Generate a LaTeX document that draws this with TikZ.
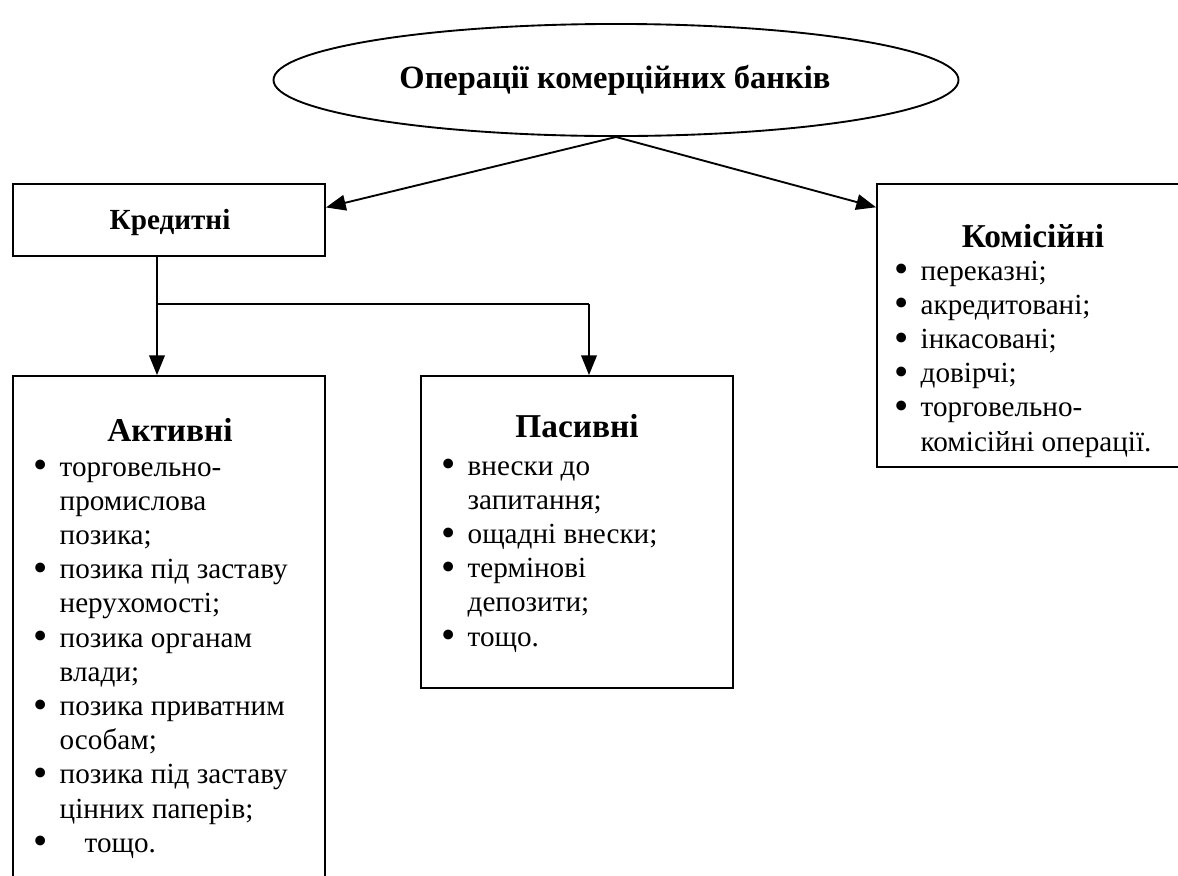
\documentclass[tikz,border=0pt]{standalone}
\usepackage{fontspec}
\setmainfont{Liberation Serif}
\usetikzlibrary{shapes.geometric,arrows.meta,fit,calc}

% bullet list as a two-column table: mark and item text, fixed row pitch
\newcommand{\bul}{\raisebox{-0.2ex}{\scalebox{1.4}{\textbullet}}}
\newcommand{\rowstrut}{\rule[-4.9pt]{0pt}{16.4pt}}
\newenvironment{blist}{\begin{tabular}[t]{@{\rowstrut}l@{\hspace{5.5pt}}l@{}}}{\end{tabular}}

\begin{document}
\begin{tikzpicture}[x=0.48pt,y=-0.48pt, line width=0.9pt,
  box/.style={draw, rectangle, inner sep=0pt},
  conn/.style={-{Triangle[length=9.5pt,width=7.5pt]}},
  body/.style={font=\fontsize{14}{16.4}\selectfont, inner sep=0pt, anchor=base west},
  head/.style={font=\fontsize{16}{18}\selectfont\bfseries, inner sep=0pt, anchor=base},
  headsm/.style={font=\fontsize{14}{16}\selectfont\bfseries, inner sep=0pt, anchor=base}]
\useasboundingbox (0,0) rectangle (1178,875);
\fill[white] (0,0) rectangle (1178,875);
\clip (0,0) rectangle (1178,875);

% root ellipse
\node[draw, ellipse, minimum width=328.8pt, minimum height=53.8pt, inner sep=0pt] (ops) at (616,80) {};
\node[head, font=\fontsize{15.6}{18}\selectfont\bfseries] (opst) at (615,88) {Операції комерційних банків};

% boxes
\node[box, fit={(13,184) (325,256)}] (kred) {};
\node[headsm] (kredt) at (170,229) {Кредитні};

\node[box, fit={(877,184) (1190,467)}] (kom) {};
\node[box, fit={(13,376) (325,910)}] (akt) {};
\node[box, fit={(421,376) (733,688)}] (pas) {};

% connectors from the root
\coordinate (kredin) at ($(kred.north east)!0.33!(kred.south east)$);
\coordinate (komin) at ($(kom.north west)!0.085!(kom.south west)$);
\draw[conn] (ops.south) -- (kredin);
\draw[conn] (ops.south) -- (komin);

% split below "Кредитні"
\coordinate (kb) at (157,256);
\coordinate (j1) at (157,304);
\coordinate (j2) at (589,304);
\draw (kb) -- (j1) -- (j2);
\draw[conn] (j1) -- (j1 |- akt.north);
\draw[conn] (j2) -- (j2 |- pas.north);

% Комісійні
\node[head] (komt) at (1033,247) {Комісійні};
\node[body] (koml) at (894,280) {\begin{blist}
\bul & переказні;\\
\bul & акредитовані;\\
\bul & інкасовані;\\
\bul & довірчі;\\
\bul & торговельно-\\
     & комісійні операції.
\end{blist}};

% Активні
\node[head] (aktt) at (170,441) {Активні};
\node[body] (aktl) at (33,476) {\begin{blist}
\bul & торговельно-\\
     & промислова\\
     & позика;\\
\bul & позика під заставу\\
     & нерухомості;\\
\bul & позика органам\\
     & влади;\\
\bul & позика приватним\\
     & особам;\\
\bul & позика під заставу\\
     & цінних паперів;\\
\bul & \hspace{12pt}тощо.
\end{blist}};

% Пасивні
\node[head] (past) at (577,437) {Пасивні};
\node[body] (pasl) at (441,475) {\begin{blist}
\bul & внески до\\
     & запитання;\\
\bul & ощадні внески;\\
\bul & термінові\\
     & депозити;\\
\bul & тощо.
\end{blist}};
\end{tikzpicture}
\end{document}
